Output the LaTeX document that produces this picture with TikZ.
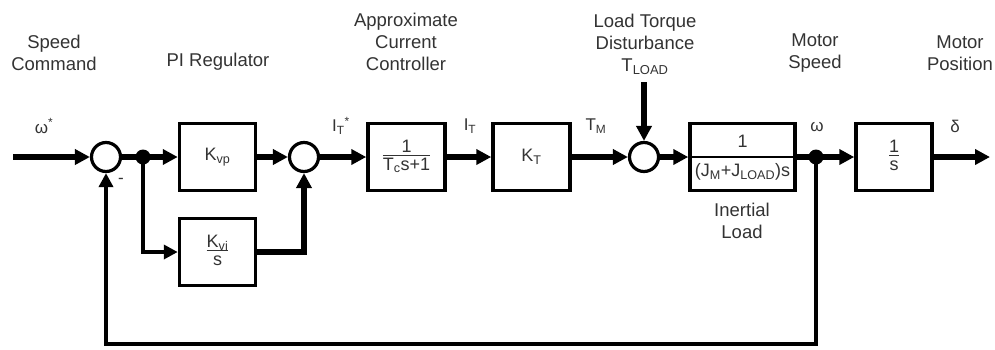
\documentclass[tikz,border=0pt]{standalone}
\usepackage{fontspec}
\setmainfont{Liberation Sans}
\usetikzlibrary{arrows.meta, positioning}
\definecolor{inkGray}{HTML}{333333}
\tikzset{
  blockbox/.style={draw, line width=3.5pt, minimum width=76pt, minimum height=67pt, inner sep=0pt, align=center, font=\fontsize{18}{21}\selectfont, text=inkGray},
  sumnode/.style={draw, circle, line width=3.2pt, minimum size=29pt, inner sep=0pt},
  tapdot/.style={circle, fill, minimum size=15pt, inner sep=0pt},
  sigarr/.style={-{Triangle[length=15pt,width=15pt]}, line width=5.5pt},
  fbarr/.style={-{Triangle[length=14pt,width=14pt]}, line width=4.5pt},
  caption/.style={align=center, font=\fontsize{18.5}{22}\selectfont, text=inkGray},
  siglabel/.style={font=\fontsize{17}{20}\selectfont, text=inkGray},
}

\begin{document}
\begin{tikzpicture}[x=1pt, y=-1pt]
    \useasboundingbox (0,0) rectangle (995,349);
    % blocks and summing junctions
    \node[sumnode] (s1) at (106,157) {};
    \node[blockbox] (kvp) at (217.5,157) {K\textsubscript{vp}};
    \node[blockbox] (ki) at (217.5,252) {\begin{tabular}{@{}c@{}}K\textsubscript{vi}\\[-3pt]\hline s\end{tabular}};
    \node[sumnode] (s2) at (304,157) {};
    \node[blockbox, minimum width=77pt] (cc) at (406.5,157) {\begin{tabular}{@{}c@{}}1\\[-3pt]\hline T\textsubscript{c}s+1\end{tabular}};
    \node[blockbox, minimum width=77pt] (kt) at (531.5,157) {K\textsubscript{T}};
    \node[sumnode] (s3) at (644,157) {};
    \node[blockbox, minimum width=105pt] (inertia) at (742.5,157) {};
    \node[blockbox] (integ) at (894,157) {\begin{tabular}{@{}c@{}}1\\[-3pt]\hline s\end{tabular}};
    \draw[line width=2.2pt] (inertia.west) -- (inertia.east);
    \node[siglabel, font=\fontsize{18}{21}\selectfont] (inum) at (742.5,141) {1};
    \node[siglabel, font=\fontsize{18}{21}\selectfont] (iden) at (742.5,172) {(J\textsubscript{M}+J\textsubscript{LOAD})s};
    % taps and free ends
    \node[tapdot] (tap1) at (143,157) {};
    \node[tapdot] (tap2) at (816,157) {};
    \coordinate (cmd) at (13,157);
    \coordinate (tload) at (644,82);
    \coordinate (pos) at (990,157);
    \coordinate (fbcorner) at (816,344);
    % signal path
    \draw[sigarr] (cmd) -- (s1);
    \draw[sigarr] (s1) -- (kvp);
    \draw[sigarr] (kvp) -- (s2);
    \draw[sigarr] (s2) -- (cc);
    \draw[sigarr] (cc) -- (kt);
    \draw[sigarr] (kt) -- (s3);
    \draw[sigarr] (tload) -- (s3);
    \draw[sigarr] (s3) -- (inertia);
    \draw[sigarr] (inertia) -- (integ);
    \draw[sigarr] (integ) -- (pos);
    \draw[fbarr] (tap1.center) |- (ki);
    \draw[sigarr] (ki) -| (s2);
    \draw[fbarr] (tap2.center) -- (fbcorner) -| (s1);
    % captions
    \node[caption] (cmdcap) at (54,53) {Speed\\Command};
    \node[caption] (picap) at (218,62) {PI Regulator};
    \node[caption] (cccap) at (406,42) {Approximate\\Current\\Controller};
    \node[caption] (tlcap) at (645,44) {Load Torque\\Disturbance\\T\textsubscript{LOAD}};
    \node[caption] (spdcap) at (815,53) {Motor\\Speed};
    \node[caption] (poscap) at (960,53) {Motor\\Position};
    \node[caption] (inertcap) at (742,221) {Inertial\\Load};
    % signal labels
    \node[siglabel] (wref) at (44,126) {ω\textsuperscript{*}};
    \node[siglabel] (itref) at (341,126) {I\textsubscript{T}\textsuperscript{*}};
    \node[siglabel] (it) at (470,126) {I\textsubscript{T}};
    \node[siglabel] (tm) at (596,126) {T\textsubscript{M}};
    \node[siglabel] (wout) at (817,127) {ω};
    \node[siglabel] (dout) at (955,126) {δ};
    \node[siglabel] (minus) at (121,181) {-};
\end{tikzpicture}
\end{document}
